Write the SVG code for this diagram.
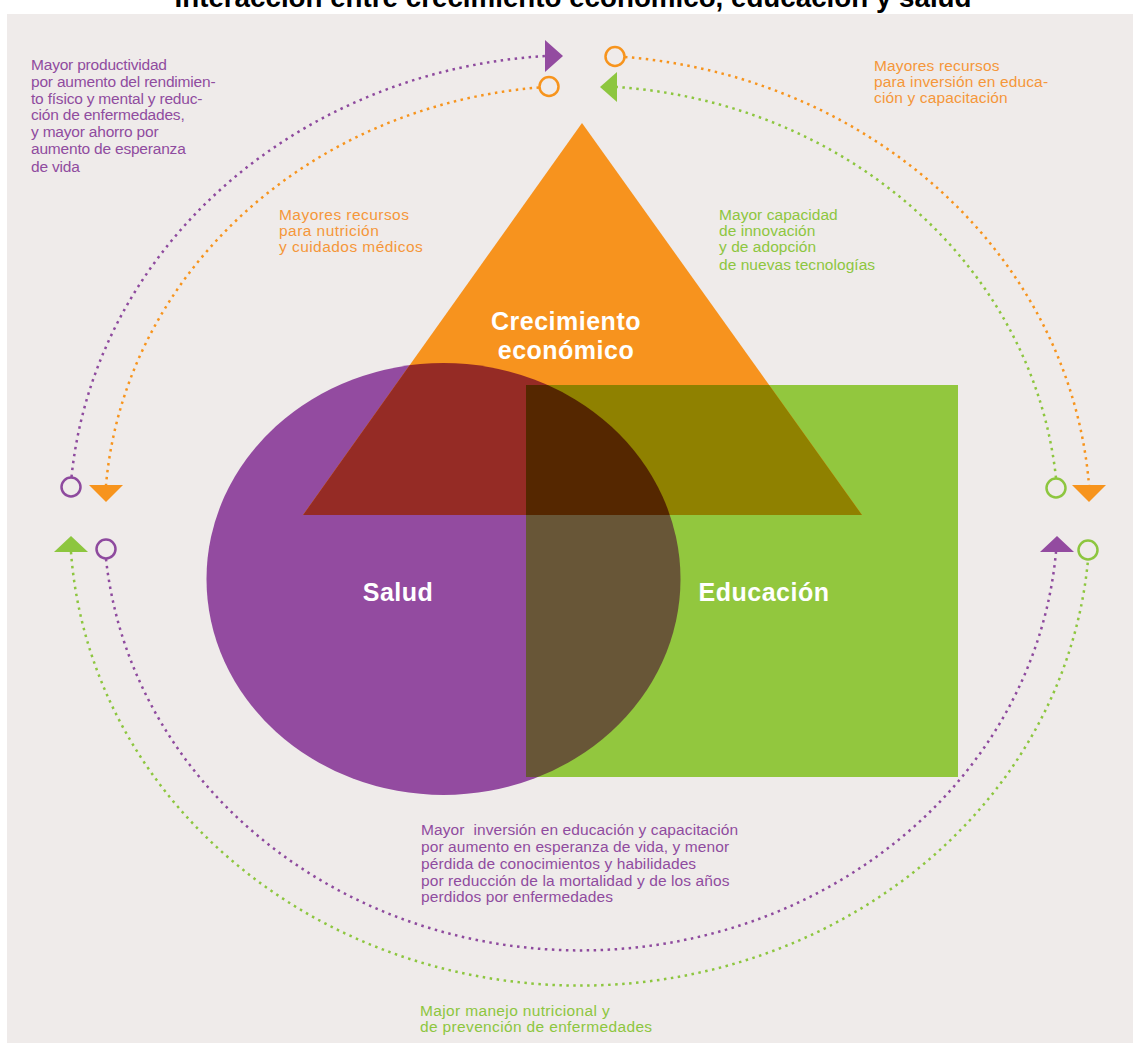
<svg xmlns="http://www.w3.org/2000/svg" width="1133" height="1043" viewBox="0 0 1133 1043">
<style>
.t{font-family:"Liberation Sans",Arial,sans-serif;font-size:15.5px;letter-spacing:-0.2px}
.tp{fill:#8f4c9f}.to{fill:#f5973a}.tg{fill:#8dc63f}
.big{font-family:"Liberation Sans",Arial,sans-serif;font-size:25px;letter-spacing:0.5px;font-weight:bold;fill:#ffffff;text-anchor:middle}
.d{fill:none;stroke-width:2.5;stroke-dasharray:2.5 4.5}
.dp{stroke:#8e4a9e}.do{stroke:#f7941d}.dg{stroke:#8dc63f}
.c{fill:none;stroke-width:2.5}
</style>
<defs>
<clipPath id="cC"><ellipse cx="443.5" cy="579" rx="237" ry="216"/></clipPath>
<clipPath id="cR"><rect x="526" y="385" width="432" height="392"/></clipPath>
</defs>
<rect x="0" y="0" width="1133" height="1043" fill="#ffffff"/>
<rect x="7" y="14" width="1126" height="1029" fill="#efebea"/>
<text x="573" y="7" font-family="'Liberation Sans',Arial,sans-serif" font-size="27" font-weight="bold" fill="#000" text-anchor="middle" textLength="797" lengthAdjust="spacingAndGlyphs">Interacción entre crecimiento económico, educación y salud</text>

<g id="salud">
<ellipse cx="443.5" cy="579" rx="237" ry="216" fill="#934ba0"/>
</g>
<g id="educacion">
<rect x="526" y="385" width="432" height="392" fill="#92c73e"/>
<rect x="526" y="385" width="432" height="392" fill="#685637" clip-path="url(#cC)"/>
</g>
<g id="crecimiento">
<polygon points="582,123 303,515 862,515" fill="#f7931e"/>
<polygon points="582,123 303,515 862,515" fill="#952b25" clip-path="url(#cC)"/>
<polygon points="582,123 303,515 862,515" fill="#8f8100" clip-path="url(#cR)"/>
<g clip-path="url(#cR)"><polygon points="582,123 303,515 862,515" fill="#552700" clip-path="url(#cC)"/></g>
</g>
<g id="labels">
<text class="big" x="566" y="330">Crecimiento</text>
<text class="big" x="566" y="359">económico</text>
<text class="big" x="398" y="601">Salud</text>
<text class="big" x="764" y="601">Educación</text>
</g>

<g id="connectors">
<path class="d dp" d="M71.5 477 A510 465 0 0 1 545 56"/>
<path class="d do" d="M625 57 A510 465 0 0 1 1089 485"/>
<path class="d dg" d="M71 552 A510 465 0 0 0 1088 560"/>
<path class="d do" d="M539 87.5 A477 434.5 0 0 0 106 485"/>
<path class="d dg" d="M1056 478 A477 434.5 0 0 0 617 87"/>
<path class="d dp" d="M106 559 A477 434.5 0 0 0 1056 552"/>
<circle class="c" cx="71" cy="487" r="9.5" stroke="#8e4a9e"/>
<polygon points="89,485 123,485 106,502" fill="#f7941d"/>
<polygon points="545,40 563,56 545,72" fill="#934ba0"/>
<circle class="c" cx="549" cy="86.5" r="9.5" stroke="#f7941d"/>
<circle class="c" cx="615" cy="56.5" r="9.5" stroke="#f7941d"/>
<polygon points="617,72 617,102 600,87" fill="#8dc63f"/>
<polygon points="1072,485 1106,485 1089,502" fill="#f7941d"/>
<circle class="c" cx="1056" cy="488" r="9.5" stroke="#8dc63f"/>
<polygon points="1040,552 1074,552 1057,536" fill="#934ba0"/>
<circle class="c" cx="1088" cy="550" r="9.5" stroke="#8dc63f"/>
<polygon points="54,552 88,552 71,536" fill="#8dc63f"/>
<circle class="c" cx="106" cy="549" r="9.5" stroke="#8e4a9e"/>
</g>

<g id="texto-productividad" class="t tp">
<text x="31" y="70">Mayor productividad</text>
<text x="31" y="87">por aumento del rendimien-</text>
<text x="31" y="104">to físico y mental y reduc-</text>
<text x="31" y="120">ción de enfermedades,</text>
<text x="31" y="137">y mayor ahorro por</text>
<text x="31" y="154">aumento de esperanza</text>
<text x="31" y="172">de vida</text>
</g>
<g id="texto-recursos-educacion" class="t to" style="letter-spacing:0.15px">
<text x="874" y="71">Mayores recursos</text>
<text x="874" y="87">para inversión en educa-</text>
<text x="874" y="103">ción y capacitación</text>
</g>
<g id="texto-recursos-nutricion" class="t to" style="letter-spacing:0.45px">
<text x="279" y="220">Mayores recursos</text>
<text x="279" y="236">para nutrición</text>
<text x="279" y="252">y cuidados médicos</text>
</g>
<g id="texto-innovacion" class="t tg" style="letter-spacing:0.05px">
<text x="719" y="220">Mayor capacidad</text>
<text x="719" y="236">de innovación</text>
<text x="719" y="252">y de adopción</text>
<text x="719" y="270">de nuevas tecnologías</text>
</g>
<g id="texto-inversion" class="t tp" style="letter-spacing:0.1px">
<text x="421" y="835" xml:space="preserve">Mayor  inversión en educación y capacitación</text>
<text x="421" y="852">por aumento en esperanza de vida, y menor</text>
<text x="421" y="869">pérdida de conocimientos y habilidades</text>
<text x="421" y="886">por reducción de la mortalidad y de los años</text>
<text x="421" y="902">perdidos por enfermedades</text>
</g>
<g id="texto-nutricional" class="t tg" style="letter-spacing:0.35px">
<text x="420" y="1016">Major manejo nutricional y</text>
<text x="420" y="1032">de prevención de enfermedades</text>
</g>
</svg>
